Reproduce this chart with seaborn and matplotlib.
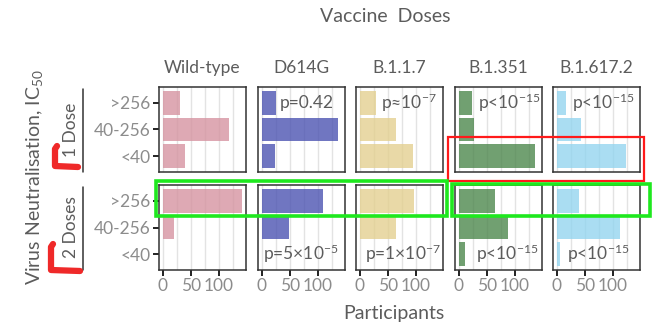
import matplotlib
matplotlib.use("Agg")
import matplotlib.pyplot as plt
import seaborn as sns
import pandas as pd
from matplotlib.lines import Line2D
from matplotlib.patches import Rectangle

# ---------------- data ----------------
categories = [">256", "40-256", "<40"]
variants = ["Wild-type", "D614G", "B.1.1.7", "B.1.351", "B.1.617.2"]
doses = ["1 Dose", "2 Doses"]

one_dose_wt = [30, 117, 39]
one_dose_d614g = [25, 135, 24]
one_dose_b117 = [28, 65, 95]
one_dose_b1351 = [23, 27, 135]
one_dose_b16172 = [16, 43, 123]

two_doses_wt = [141, 19, 0]
two_doses_d614g = [108, 49, 0]
two_doses_b117 = [97, 64, 0]
two_doses_b1351 = [64, 87, 10]
two_doses_b16172 = [39, 112, 6]

p_one_dose = ["", "p=0.42", "p\u224810$^{-7}$", "p<10$^{-15}$", "p<10$^{-15}$"]
p_two_doses = ["", "p=5\u00d710$^{-5}$", "p=1\u00d710$^{-7}$", "p<10$^{-15}$", "p<10$^{-15}$"]

x_ticks = [0, 50, 100]

# ---------------- styling ----------------
sns.set_theme(style="white")
plt.rcParams["font.family"] = ["Lato", "DejaVu Sans"]
plt.rcParams["mathtext.fontset"] = "custom"
plt.rcParams["mathtext.rm"] = "Lato"
plt.rcParams["mathtext.it"] = "Lato"
plt.rcParams["mathtext.default"] = "regular"

colors = ["#d5919f", "#4850b0", "#e3cf8e", "#498549", "#92d4ef"]
bar_alpha = 0.78
text_grey = "#8c8c8c"
dark_text = "#5c5c5c"

rows = {
    "1 Dose": [one_dose_wt, one_dose_d614g, one_dose_b117, one_dose_b1351, one_dose_b16172],
    "2 Doses": [two_doses_wt, two_doses_d614g, two_doses_b117, two_doses_b1351, two_doses_b16172],
}
records = []
for dose in doses:
    for v, vals in zip(variants, rows[dose]):
        for c, n in zip(categories, vals):
            records.append({"dose": dose, "variant": v, "ic50": c, "n": n})
df = pd.DataFrame(records)

W, H = 661, 335
fig = plt.figure(figsize=(W / 100, H / 100), dpi=100)

def fx(x):
    return x / W

def fy(y):
    return 1 - y / H

col_left = [159, 258, 356, 455, 553]
col_w = 87
row_top = [87, 185]
row_h = 85

p_pos_one = [None, 80, 87, 89, 82]
p_pos_two = [None, 69, 76, 86, 74]

for ri, dose in enumerate(doses):
    for ci, v in enumerate(variants):
        ax = fig.add_axes([fx(col_left[ci]), fy(row_top[ri] + row_h), col_w / W, row_h / H])
        sub = df[(df.dose == dose) & (df.variant == v)]
        ax.set_axisbelow(True)
        for g in range(0, 150, 25):
            ax.axvline(g, color="#e3e3e3", lw=1.0, zorder=0)
        sns.barplot(data=sub, x="n", y="ic50", order=categories, color=colors[ci],
                    alpha=bar_alpha, width=0.9, orient="h", ax=ax, errorbar=None,
                    saturation=1, linewidth=0)
        ax.set_xlim(-7, 148)
        ax.set_ylim(2.6, -0.6)
        ax.set_xlabel("")
        ax.set_ylabel("")
        for s in ax.spines.values():
            s.set_visible(True)
            s.set_color("#333333")
            s.set_linewidth(1.1)
        ax.set_xticks(x_ticks)
        ax.tick_params(axis="both", which="both", length=4, width=1.4, color="#222222",
                       labelcolor=text_grey, labelsize=12.5, pad=2)
        if ri == 1:
            ax.set_xticklabels([str(t) for t in x_ticks])
            ax.tick_params(axis="x", bottom=True)
        else:
            ax.tick_params(axis="x", bottom=False, labelbottom=False)
        if ci == 0:
            ax.tick_params(axis="y", left=True)
            ax.set_yticklabels(categories)
        else:
            ax.tick_params(axis="y", left=False, labelleft=False)
        if ri == 0:
            ax.set_title(v, color=dark_text, fontsize=12.5, pad=10)
            if p_one_dose[ci]:
                ax.text(p_pos_one[ci], 0, p_one_dose[ci], ha="center", va="center",
                        fontsize=12.5, color=dark_text)
        else:
            if p_two_doses[ci]:
                ax.text(p_pos_two[ci], 2, p_two_doses[ci], ha="center", va="center",
                        fontsize=12.5, color=dark_text)

# global titles
fig.text(fx(385), fy(16), "Vaccine  Doses", ha="center", va="center", fontsize=14,
         color=dark_text)
fig.text(fx(394), fy(313), "Participants", ha="center", va="center", fontsize=14,
         color=dark_text)
fig.text(fx(35), fy(177), "Virus Neutralisation, IC$_{50}$", ha="center", va="center",
         rotation=90, fontsize=14, color=dark_text)

# row strips (outside, switched)
for ri, dose in enumerate(doses):
    top = row_top[ri]
    fig.text(fx(71), fy(top + row_h / 2), dose, ha="center", va="center", rotation=90,
             fontsize=12.5, color=dark_text)
    fig.add_artist(Line2D([fx(83), fx(83)], [fy(top + 2), fy(top + row_h)],
                          color="#333333", lw=1.1, transform=fig.transFigure))

# highlight annotations drawn on the figure
def rect(x0, y0, x1, y1, color, lw):
    fig.add_artist(Rectangle((fx(x0), fy(y1)), (x1 - x0) / W, (y1 - y0) / H,
                             fill=False, edgecolor=color, lw=lw, transform=fig.transFigure,
                             zorder=10))

rect(448, 137, 644, 181, "#ff1a1a", 1.6)
rect(156, 181, 447, 216, "#1ee81e", 2.6)
rect(452, 184, 650, 216, "#1ee81e", 2.6)

for (xv, y0, y1, x1) in [(55, 146, 166, 78), (51, 244, 270, 80)]:
    fig.add_artist(Line2D([fx(xv + 2), fx(xv), fx(xv), fx(x1)],
                          [fy(y0), fy(y0 + 3), fy(y1), fy(y1 + 1)],
                          color="#ee1111", lw=4.5, alpha=0.9, solid_capstyle="round",
                          solid_joinstyle="round", transform=fig.transFigure, zorder=10))

fig.savefig("out.png", dpi=100)
